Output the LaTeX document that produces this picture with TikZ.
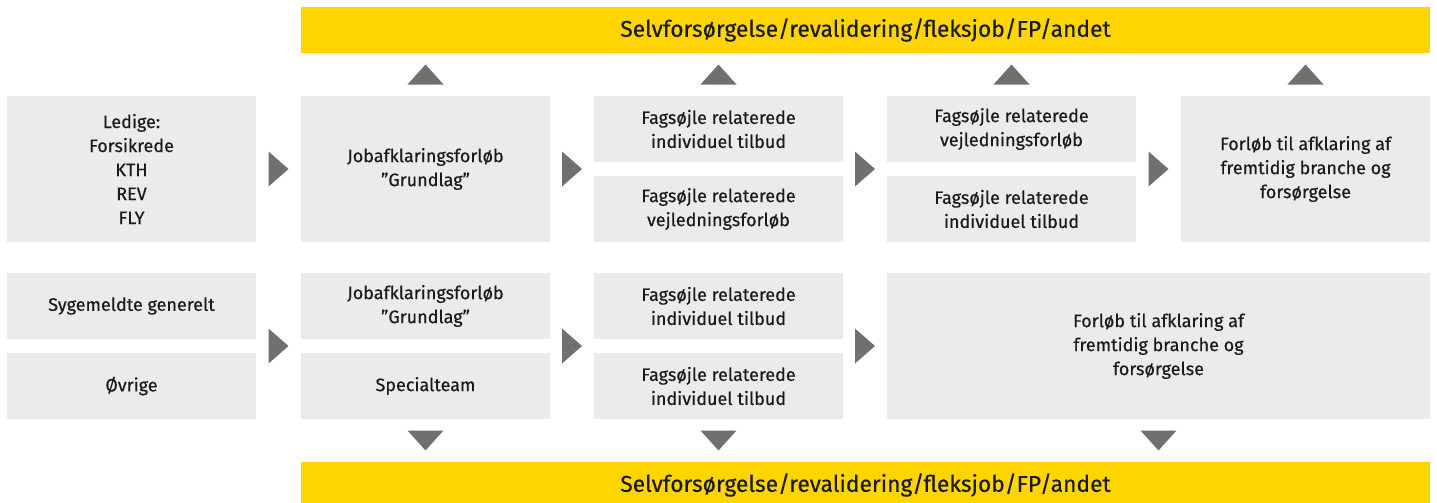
\documentclass[tikz,border=0pt]{standalone}
\usepackage{fontspec}
\setmainfont{Fira Sans}[FakeBold=0.4]
\usetikzlibrary{calc}
\definecolor{boxgray}{HTML}{EBEBEB}
\definecolor{arrgray}{HTML}{707070}
\definecolor{ey}{HTML}{FFD500}
\definecolor{txt}{HTML}{1A1A1A}
\tikzset{
  stagebox/.style={fill=boxgray, inner sep=0pt, align=center, text=txt,
    font=\fontsize{18}{24}\selectfont, minimum width=249pt},
  tall/.style={minimum height=146pt},
  half/.style={minimum height=66pt},
  bar/.style={fill=ey, inner sep=0pt, text=txt, minimum width=1129pt, minimum height=46pt,
    font=\fontsize{22.8}{25}\selectfont},
  arr/.style={fill=arrgray}
}
\newcommand\rtri[1]{\fill[arr] ($(#1)+(-10,-17.5)$) -- ($(#1)+(10,0)$) -- ($(#1)+(-10,17.5)$) -- cycle;}
\newcommand\utri[1]{\fill[arr] ($(#1)+(-18,10)$) -- ($(#1)+(0,-10)$) -- ($(#1)+(18,10)$) -- cycle;}
\newcommand\dtri[1]{\fill[arr] ($(#1)+(-18,-10)$) -- ($(#1)+(0,10)$) -- ($(#1)+(18,-10)$) -- cycle;}
\begin{document}
\begin{tikzpicture}[x=1pt,y=-1pt]
\clip (0,0) rectangle (1437,503);
\useasboundingbox (0,0) rectangle (1437,503);
% bars
\node[bar] (top) at (865.5,30) {Selvforsørgelse/revalidering/fleksjob/FP/andet};
\node[bar] (bot) at (865.5,485) {Selvforsørgelse/revalidering/fleksjob/FP/andet};
% row 1
\node[stagebox,tall] (a) at (131.5,169) {Ledige:\\Forsikrede\\KTH\\REV\\FLY};
\node[stagebox,tall] (b) at (425.5,169) {Jobafklaringsforløb\\”Grundlag”};
\node[stagebox,half] (c1) at (718.5,129) {Fagsøjle relaterede\\individuel tilbud};
\node[stagebox,half] (c2) at (718.5,209) {Fagsøjle relaterede\\vejledningsforløb};
\node[stagebox,half] (d1) at (1011.5,129) {Fagsøjle relaterede\\vejledningsforløb};
\node[stagebox,half] (d2) at (1011.5,209) {Fagsøjle relaterede\\individuel tilbud};
\node[stagebox,tall] (e) at (1305.5,169) {Forløb til afklaring af\\fremtidig branche og\\forsørgelse};
% row 2
\node[stagebox,half] (f1) at (131.5,306) {Sygemeldte generelt};
\node[stagebox,half] (f2) at (131.5,386) {Øvrige};
\node[stagebox,half] (g1) at (425.5,306) {Jobafklaringsforløb\\”Grundlag”};
\node[stagebox,half] (g2) at (425.5,386) {Specialteam};
\node[stagebox,half] (h1) at (718.5,306) {Fagsøjle relaterede\\individuel tilbud};
\node[stagebox,half] (h2) at (718.5,386) {Fagsøjle relaterede\\individuel tilbud};
\node[stagebox,tall,minimum width=543pt] (k) at (1158.5,346) {Forløb til afklaring af\\fremtidig branche og\\forsørgelse};
% right arrows row 1
\coordinate (r1) at ($(a.east)!0.5!(b.west)$); \rtri{r1}
\coordinate (r2) at ($(b.east)!0.5!(c1.west|-b.east)$); \rtri{r2}
\coordinate (r3) at ($(c1.east|-b.east)!0.5!(d1.west|-b.east)$); \rtri{r3}
\coordinate (r4) at ($(d1.east|-e.west)!0.5!(e.west)$); \rtri{r4}
% right arrows row 2
\coordinate (s1) at ($(f1.east|-k.west)!0.5!(g1.west|-k.west)$); \rtri{s1}
\coordinate (s2) at ($(g1.east|-k.west)!0.5!(h1.west|-k.west)$); \rtri{s2}
\coordinate (s3) at ($(h1.east|-k.west)!0.5!(k.west)$); \rtri{s3}
% up arrows
\coordinate (u1) at ($(b.north)!0.5!(b.north|-top.south)$); \utri{u1}
\coordinate (u2) at ($(c1.north)!0.5!(c1.north|-top.south)$); \utri{u2}
\coordinate (u3) at ($(d1.north)!0.5!(d1.north|-top.south)$); \utri{u3}
\coordinate (u4) at ($(e.north)!0.5!(e.north|-top.south)$); \utri{u4}
% down arrows
\coordinate (v1) at ($(g2.south)!0.5!(g2.south|-bot.north)$); \dtri{v1}
\coordinate (v2) at ($(h2.south)!0.5!(h2.south|-bot.north)$); \dtri{v2}
\coordinate (v3) at ($(k.south)!0.5!(k.south|-bot.north)$); \dtri{v3}
\end{tikzpicture}
\end{document}
